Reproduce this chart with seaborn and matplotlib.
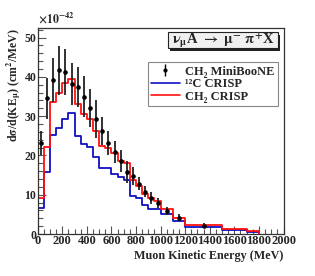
import numpy as np
import seaborn as sns
import matplotlib.pyplot as plt
from matplotlib.lines import Line2D
from matplotlib.patches import Rectangle
from matplotlib.ticker import MultipleLocator

# histogram bin edges (MeV)
edges = [0, 50, 100, 150, 200, 250, 300, 350, 400, 450, 500, 550, 600, 650,
         700, 750, 800, 850, 900, 950, 1000, 1100, 1200, 1500, 1700, 1800]

# CRISP predictions, units of 1e-42 cm^2/MeV
ch2_crisp = [9.3, 22.1, 33.7, 36.0, 38.5, 39.4, 33.0, 30.5, 29.4, 26.3, 22.5,
             22.0, 20.5, 18.7, 18.0, 13.8, 12.2, 10.2, 9.1, 8.4, 6.3, 4.2,
             2.3, 1.3, 0.8]
c12_crisp = [6.7, 15.9, 25.2, 27.0, 29.4, 30.7, 25.0, 22.9, 22.2, 19.7, 16.7,
             16.7, 15.3, 14.4, 13.7, 9.8, 9.2, 7.4, 6.3, 6.3, 5.1, 3.2,
             1.9, 1.0, 0.4]

# MiniBooNE CH2 data
data_x = [25, 75, 125, 175, 225, 275, 325, 375, 425, 475, 525, 575, 625,
          675, 725, 775, 825, 875, 925, 975, 1050, 1150, 1350]
data_y = [23.2, 34.5, 39.2, 41.7, 41.3, 38.2, 37.5, 35.0, 32.1, 29.3, 26.3,
          23.2, 20.8, 18.6, 15.9, 14.8, 12.8, 10.8, 9.2, 8.0, 5.9, 4.2, 2.1]
data_err = [3.0, 5.1, 5.6, 6.2, 5.8, 5.4, 5.1, 5.3, 4.9, 4.8, 3.6, 3.0, 2.8,
            2.9, 2.8, 2.3, 1.7, 1.4, 1.5, 1.3, 1.1, 0.85, 0.6]

sns.set_style("ticks")
plt.rcParams['font.family'] = ['Liberation Serif', 'DejaVu Serif']
plt.rcParams['font.weight'] = 'bold'
plt.rcParams['mathtext.fontset'] = 'stix'

fig = plt.figure(figsize=(3.15, 2.76), dpi=100)
ax = fig.add_axes([0.1197, 0.152, 0.7803, 0.7475])

centers = [(a + b) / 2 for a, b in zip(edges[:-1], edges[1:])]
sns.histplot(x=centers, weights=c12_crisp, bins=edges, element="step",
             fill=False, color="#1010c0", linewidth=1.3, ax=ax)
sns.histplot(x=centers, weights=ch2_crisp, bins=edges, element="step",
             fill=False, color="#ff1010", linewidth=1.3, ax=ax)
# close the histograms at the last edge
ax.vlines(edges[-1], 0, c12_crisp[-1], color="#1010c0", lw=1.3)
ax.vlines(edges[-1], 0, ch2_crisp[-1], color="#ff1010", lw=1.3)

ax.errorbar(data_x, data_y, yerr=data_err, fmt='o', ms=2.3, color='black',
            ecolor='#222222', elinewidth=1.3, capsize=0, zorder=5)

ax.set_xlim(0, 2000)
ax.set_ylim(0, 52.5)
ax.xaxis.set_major_locator(MultipleLocator(200))
ax.xaxis.set_minor_locator(MultipleLocator(50))
ax.yaxis.set_major_locator(MultipleLocator(10))
ax.yaxis.set_minor_locator(MultipleLocator(2))
ax.tick_params(which='major', direction='in', length=6, width=0.8,
               color='#555555', pad=1)
ax.tick_params(which='minor', direction='in', length=3.5, width=0.8,
               color='#555555')
ax.tick_params(axis='x', labelsize=9)
ax.tick_params(axis='y', labelsize=8.5)
for lab in ax.get_xticklabels() + ax.get_yticklabels():
    lab.set_fontweight('bold')
for s in ax.spines.values():
    s.set_color('#333333')
    s.set_linewidth(0.9)

ax.set_xlabel("Muon Kinetic Energy (MeV)", fontsize=8.7, fontweight='bold',
              loc='right', labelpad=2)
ax.set_ylabel(r"d$\mathrm{\sigma}$/d(KE$_{\mathrm{\mu}}$) (cm$^{2}$/MeV)",
              fontsize=8.5, fontweight='bold', loc='top', labelpad=1)
ax.text(0.0, 1.01, r"$\times10^{-42}$", transform=ax.transAxes, fontsize=8.5,
        ha='left', va='bottom')

# process label box with shadow
ax.add_patch(Rectangle((0.539, 0.888), 0.448, 0.078, transform=ax.transAxes,
                       facecolor='#222222', edgecolor='none', clip_on=False,
                       zorder=6))
ax.add_patch(Rectangle((0.531, 0.900), 0.448, 0.078, transform=ax.transAxes,
                       facecolor='#f0f0f0', edgecolor='#222222', lw=0.8,
                       clip_on=False, zorder=7))
ax.text(0.755, 0.935,
        r"$\mathrm{\nu_{\mu}}$A $\rightarrow$ $\mathrm{\mu^{-}}$ "
        r"$\mathrm{\pi^{+}}$X",
        transform=ax.transAxes, ha='center', va='center', fontsize=10.5,
        fontweight='bold', zorder=8)

# legend
h_data = ax.errorbar([], [], yerr=[], fmt='o', ms=2, color='black',
                     elinewidth=1, capsize=0)
h_c12 = Line2D([], [], color="#1010c0", lw=1.2)
h_ch2 = Line2D([], [], color="#ff1010", lw=1.2)
leg = ax.legend([h_data, h_c12, h_ch2],
                ["CH\u2082 MiniBooNE", "\u00b9\u00b2C CRISP", "CH\u2082 CRISP"],
                loc='upper left', bbox_to_anchor=(0.4475, 0.620, 0.5315, 0.212),
                mode='expand', fontsize=9, frameon=True, fancybox=False,
                framealpha=1, edgecolor='#888888', handlelength=2.3,
                handletextpad=0.4, labelspacing=0.05, borderpad=0.25,
                borderaxespad=0)
leg.get_frame().set_linewidth(0.8)
for t in leg.get_texts():
    t.set_fontweight('bold')

fig.savefig("out.png", dpi=100)
